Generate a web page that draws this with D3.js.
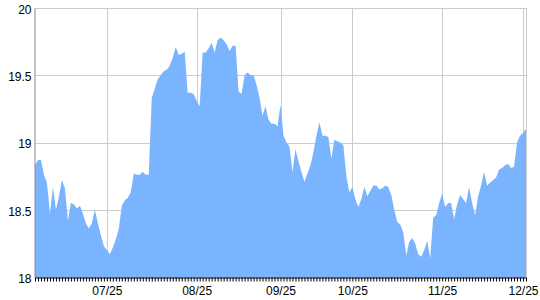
<!DOCTYPE html>
<html>
<head>
<meta charset="utf-8">
<script src="https://cdn.jsdelivr.net/npm/d3@7"></script>
<style>
  body { margin: 0; background: #fff; }
  svg text { font-family: "Liberation Sans", Arial, sans-serif; font-size: 12px; fill: #000; }
</style>
</head>
<body>
<div id="chart"></div>
<script>
// values, one per trading day
const values = [
  18.83, 18.87, 18.87, 18.76, 18.70, 18.47, 18.67, 18.50, 18.60, 18.72,
  18.66, 18.42, 18.55, 18.54, 18.51, 18.53, 18.47, 18.40, 18.36, 18.40,
  18.50, 18.40, 18.31, 18.23, 18.20, 18.17, 18.22, 18.28, 18.36, 18.53,
  18.57, 18.59, 18.63, 18.77, 18.76, 18.76, 18.78, 18.76, 18.76, 19.33,
  19.40, 19.47, 19.50, 19.53, 19.54, 19.57, 19.63, 19.71, 19.65, 19.66,
  19.675, 19.37, 19.37, 19.36, 19.31, 19.27, 19.67, 19.67, 19.70, 19.74,
  19.67, 19.76, 19.78, 19.76, 19.73, 19.68, 19.72, 19.72, 19.38, 19.36,
  19.50, 19.52, 19.50, 19.50, 19.43, 19.33, 19.20, 19.27, 19.17, 19.14,
  19.14, 19.12, 19.28, 19.05, 19.00, 18.97, 18.78, 18.95, 18.86, 18.78,
  18.71, 18.77, 18.83, 18.93, 19.05, 19.15, 19.05, 19.05, 19.04, 18.88,
  19.02, 19.01, 19.00, 18.98, 18.75, 18.63, 18.67, 18.58, 18.52, 18.58,
  18.67, 18.60, 18.64, 18.68, 18.68, 18.65, 18.66, 18.68, 18.67, 18.61,
  18.50, 18.41, 18.39, 18.33, 18.16, 18.26, 18.29, 18.25, 18.17, 18.15,
  18.20, 18.27, 18.14, 18.44, 18.46, 18.55, 18.62, 18.52, 18.55, 18.55,
  18.43, 18.54, 18.61, 18.58, 18.55, 18.67, 18.55, 18.46, 18.60, 18.68,
  18.78, 18.68, 18.70, 18.72, 18.74, 18.80, 18.81, 18.83, 18.84, 18.81,
  18.82, 19.00, 19.05, 19.07, 19.10
];

// month labels and the index of the data point they sit on
const monthLabels = ["07/25", "08/25", "09/25", "10/25", "11/25", "12/25"];
const monthIndex = [24, 54, 82, 106, 136, 163];

const yTicks = [18, 18.5, 19, 19.5, 20];

const w = 540, h = 300;
const m = { top: 8, right: 14, bottom: 23, left: 35 };

const svg = d3.select("#chart").append("svg")
  .attr("width", w)
  .attr("height", h);

const x = d3.scaleLinear()
  .domain([0, values.length - 1])
  .range([m.left, w - m.right]);

const y = d3.scaleLinear()
  .domain([18, 20])
  .range([h - m.bottom, m.top]);

// grid
svg.append("g")
  .selectAll("line")
  .data(yTicks)
  .join("line")
    .attr("x1", m.left)
    .attr("x2", w - m.right)
    .attr("y1", d => Math.round(y(d)) + 0.5)
    .attr("y2", d => Math.round(y(d)) + 0.5)
    .attr("stroke", "#cccccc");

svg.append("g")
  .selectAll("line")
  .data(monthIndex)
  .join("line")
    .attr("x1", d => Math.round(x(d)) + 0.5)
    .attr("x2", d => Math.round(x(d)) + 0.5)
    .attr("y1", m.top)
    .attr("y2", h - m.bottom)
    .attr("stroke", "#cccccc");

// right border
svg.append("line")
  .attr("x1", w - m.right + 0.5)
  .attr("x2", w - m.right + 0.5)
  .attr("y1", m.top)
  .attr("y2", h - m.bottom)
  .attr("stroke", "#cccccc");

// area
const area = d3.area()
  .x((d, i) => x(i))
  .y0(y(18))
  .y1(d => y(d));

svg.append("path")
  .datum(values)
  .attr("d", area)
  .attr("fill", "#7ab4ff");

// left axis
const yAxis = d3.axisLeft(y)
  .tickValues(yTicks)
  .tickSize(0)
  .tickPadding(3)
  .tickFormat(d3.format("~g"));

const gy = svg.append("g")
  .attr("transform", `translate(${m.left - 0.5},0)`)
  .call(yAxis);
gy.select(".domain").attr("stroke", "#888888");
gy.selectAll("text").attr("dy", "0.45em");

// bottom axis: a tick for every data point
const xAxis = d3.axisBottom(x)
  .tickValues(d3.range(values.length))
  .tickSize(4)
  .tickSizeOuter(0)
  .tickFormat(d => {
    const k = monthIndex.indexOf(d);
    return k >= 0 ? monthLabels[k] : "";
  });

const gx = svg.append("g")
  .attr("transform", `translate(0,${h - m.bottom + 0.5})`)
  .call(xAxis);
gx.select(".domain").attr("stroke", "#000");
gx.selectAll(".tick line").attr("stroke", "#000");
gx.selectAll("text").attr("dy", "0.9em");
</script>
</body>
</html>
